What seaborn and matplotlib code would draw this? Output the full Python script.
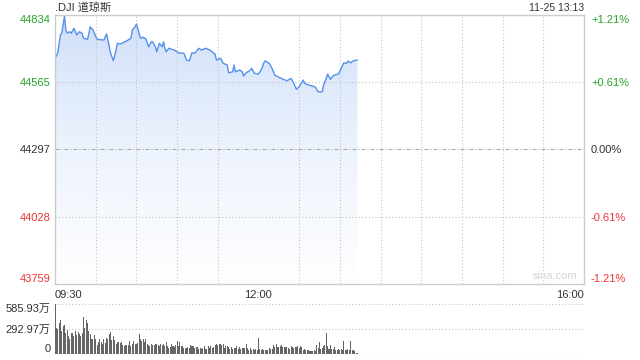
import numpy as np
import pandas as pd
import matplotlib
matplotlib.use("Agg")
import matplotlib.pyplot as plt
from matplotlib.colors import LinearSegmentedColormap
import seaborn as sns

# ---------------- data ----------------
prev_close = 44297
price_levels = [44834, 44565, 44297, 44028, 43759]
pct_labels = ["+1.21%", "+0.61%", "0.00%", "-0.61%", "-1.21%"]
time_ticks = [0, 150, 390]
time_labels = ["09:30", "12:00", "16:00"]

minutes = [0, 2, 4, 5, 7, 8, 9, 11, 12, 14, 16, 18, 20, 21, 24, 25, 26, 28, 31, 36,
           38, 39, 41, 43, 45, 46, 48, 50, 53, 56, 57, 59, 60, 61, 63, 65, 67, 69, 71, 72,
           74, 75, 77, 79, 80, 81, 82, 84, 86, 88, 91, 95, 97, 99, 101, 103, 106, 108, 111, 113,
           115, 118, 119, 122, 124, 127, 128, 131, 132, 133, 136, 138, 139, 141, 144, 145, 147, 150, 152, 154,
           155, 157, 158, 160, 162, 165, 168, 171, 174, 176, 178, 180, 183, 184, 187, 190, 192, 194, 197, 198,
           200, 201, 203, 205, 206, 209, 211, 213, 215, 216, 218, 220, 223]
prices = [44661, 44682, 44754, 44762, 44830, 44774, 44762, 44767, 44761, 44781, 44754, 44767, 44761, 44741, 44737, 44761, 44787, 44774, 44737, 44734,
          44758, 44734, 44681, 44651, 44694, 44721, 44718, 44723, 44731, 44741, 44774, 44787, 44798, 44781, 44741, 44745, 44738, 44707, 44727, 44727,
          44707, 44687, 44721, 44707, 44727, 44701, 44687, 44701, 44697, 44694, 44683, 44681, 44654, 44651, 44683, 44681, 44701, 44694, 44701, 44697,
          44691, 44678, 44654, 44661, 44641, 44634, 44603, 44607, 44634, 44607, 44614, 44607, 44590, 44603, 44614, 44621, 44601, 44598, 44614, 44643,
          44651, 44643, 44641, 44621, 44594, 44585, 44578, 44571, 44581, 44561, 44537, 44547, 44574, 44561, 44554, 44550, 44545, 44527, 44527, 44554,
          44581, 44598, 44577, 44590, 44594, 44598, 44621, 44643, 44641, 44650, 44643, 44651, 44654]

# volume per minute (万)
volume = [586, 309, 297, 360, 396, 269, 329, 337, 249, 281, 210, 178, 249, 249, 210, 265, 218, 257, 238, 210,
          249, 428, 309, 396, 360, 269, 230, 170, 178, 218, 170, 111, 139, 170, 139, 123, 170, 131, 190, 178,
          230, 261, 162, 210, 162, 123, 139, 139, 131, 139, 111, 91, 111, 111, 111, 150, 99, 123, 150, 123,
          123, 131, 238, 178, 150, 178, 139, 178, 123, 111, 99, 119, 111, 111, 123,
          123, 107, 99, 123, 107, 123, 99, 139, 91, 71, 83, 123, 91, 87, 111, 147, 99, 139, 99, 91,
          67, 71, 67, 83, 67, 111, 91, 99, 71, 87, 79, 63, 67, 63, 71, 91, 63, 63, 99, 67,
          99, 67, 83, 111, 119, 111, 119, 123, 103, 123, 71, 91, 91, 83, 59, 79, 55, 71, 71, 91,
          59, 83, 55, 71, 67, 71, 115, 67, 51, 71, 51, 59, 51, 55, 51, 182,
          59, 51, 63, 51, 51, 51, 44, 71, 63, 59, 103, 79, 123, 79, 79, 91, 111, 79, 79, 79,
          79, 71, 59, 99, 83, 71, 79, 83, 91, 71, 91, 79, 51, 63, 51, 51, 51, 40, 36, 32,
          51, 40, 111, 71, 139, 63, 71, 91, 111, 242, 91, 59, 111, 63, 63, 83, 51, 51, 59, 51,
          59, 51, 158, 51, 51, 59, 51, 158, 44, 51, 32, 12, 8]
vol_levels = [0, 292.97, 585.93]
vol_labels = ["0", "292.97万", "585.93万"]

# ---------------- style ----------------
sns.set_style("white")
plt.rcParams['font.family'] = ['Liberation Sans', 'Noto Sans CJK SC', 'DejaVu Sans']
plt.rcParams['font.size'] = 8

W, H = 640, 360
fig = plt.figure(figsize=(6.4, 3.6), dpi=100)

def rect(l, t, r, b):
    return [l / W, 1 - b / H, (r - l) / W, (b - t) / H]

GREEN = '#27a327'
RED = '#f03434'
DARK = '#333333'
FRAME = '#cccccc'
LINE = '#5590ea'

ax = fig.add_axes(rect(55, 15, 584, 284))
df = pd.DataFrame({"minute": minutes, "price": prices})

ax.set_xlim(0, 390)
ax.set_ylim(price_levels[-1], price_levels[0])
ax.set_axisbelow(False)

# gradient fill under the line
poly = ax.fill_between(df["minute"], df["price"], price_levels[-1], color='none', lw=0, zorder=0.5)
cmap = LinearSegmentedColormap.from_list("fade", ["#ffffff", "#edf3fd", "#d0e0fa"])
grad = np.linspace(0, 1, 256).reshape(-1, 1)
img = ax.imshow(grad, extent=[0, df["minute"].max(), price_levels[-1], price_levels[0]],
                origin='lower', aspect='auto', cmap=cmap, zorder=0.6)
img.set_clip_path(poly.get_paths()[0], transform=ax.transData)

sns.lineplot(data=df, x="minute", y="price", ax=ax, color=LINE, linewidth=1.0, zorder=3)
ax.set_xlabel("")
ax.set_ylabel("")

# grid
ax.set_xticks(range(0, 391, 30), minor=True)
ax.set_xticks(time_ticks)
ax.set_xticklabels(time_labels, color=DARK, fontsize=8)
ax.tick_params(axis='x', which='both', length=0, pad=4)
ax.grid(which='minor', axis='x', linestyle=(0, (1, 2)), color='#c4c4c4', linewidth=0.8)
ax.grid(which='major', axis='x', visible=False)
xl = ax.get_xticklabels()
xl[0].set_ha('left')
xl[-1].set_ha('right')

ax.set_yticks(price_levels)
ax.set_yticklabels([str(v) for v in price_levels], fontsize=8)
ax.tick_params(axis='y', length=0, pad=3)
ax.grid(which='major', axis='y', linestyle=(0, (1, 2)), color='#c4c4c4', linewidth=0.8)
glines = ax.get_ygridlines()
glines[2].set_linestyle((0, (3.6, 1.8, 0.9, 1.8)))
glines[2].set_color('#aaaaaa')
ycols = [GREEN, GREEN, DARK, RED, RED]
for lab, c in zip(ax.get_yticklabels(), ycols):
    lab.set_color(c)
yl = ax.get_yticklabels()
yl[0].set_va('top')
yl[-1].set_va('bottom')

for s in ax.spines.values():
    s.set_color(FRAME)
    s.set_linewidth(1.0)
    s.set_zorder(4)

ax2 = ax.twinx()
ax2.set_ylim(ax.get_ylim())
ax2.set_yticks(price_levels)
ax2.set_yticklabels(pct_labels, fontsize=8)
ax2.tick_params(axis='y', length=0, pad=5)
for lab, c in zip(ax2.get_yticklabels(), ycols):
    lab.set_color(c)
yl2 = ax2.get_yticklabels()
yl2[0].set_va('top')
yl2[-1].set_va('bottom')
for s in ax2.spines.values():
    s.set_visible(False)
ax2.grid(False)

# texts
fig.text(55 / W, 1 - 7 / H, ".DJI 道琼斯", ha='left', va='center', fontsize=8, color=DARK)
fig.text(584 / W, 1 - 8 / H, "11-25 13:13", ha='right', va='center', fontsize=7.5, color=DARK)
ax.text(0.945, 0.03, "sina.com", transform=ax.transAxes, ha='center', va='center',
        fontsize=8, color='#d4d4d4')

# volume panel
axv = fig.add_axes(rect(55, 304, 584, 354))
vdf = pd.DataFrame({"minute": np.arange(len(volume)), "volume": volume})
sns.barplot(data=vdf, x="minute", y="volume", native_scale=True, color='#666666',
            saturation=1, width=0.75, errorbar=None, linewidth=0, ax=axv)
axv.set_xlim(0, 390)
axv.set_ylim(0, vol_levels[-1])
axv.set_xlabel("")
axv.set_ylabel("")
axv.set_xticks([])
axv.set_yticks(vol_levels)
axv.set_yticklabels(vol_labels, fontsize=8, color=DARK)
axv.tick_params(axis='y', length=0, pad=3)
vyl = axv.get_yticklabels()
vyl[0].set_va('bottom')
vyl[-1].set_va('top')
axv.grid(which='major', axis='y', linestyle=(0, (1, 2)), color='#c4c4c4', linewidth=0.8)
axv.set_axisbelow(True)
for s in axv.spines.values():
    s.set_visible(False)

fig.savefig("out.png", dpi=100)
